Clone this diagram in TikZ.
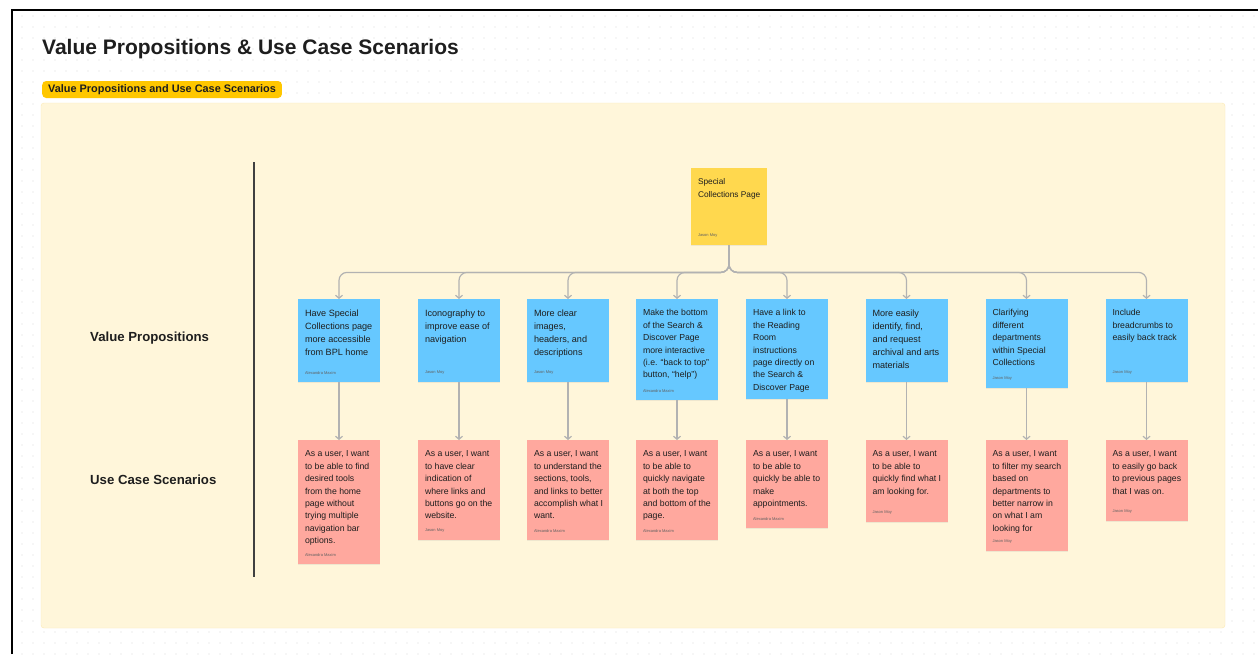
\documentclass[tikz,border=0pt]{standalone}
\usepackage{fontspec}
\setmainfont{Liberation Sans}
\usepackage{xcolor}
\usepackage{tikz}
\definecolor{stickyblue}{RGB}{102,200,255}
\definecolor{stickyred}{RGB}{255,168,158}
\definecolor{stickyyellow}{RGB}{255,216,78}
\definecolor{tagyellow}{RGB}{255,199,0}
\definecolor{panelcream}{RGB}{255,246,218}
\definecolor{panelline}{RGB}{252,234,180}
\definecolor{linkgrey}{RGB}{178,178,178}
\definecolor{inkdark}{RGB}{30,30,30}
\usetikzlibrary{arrows.meta, positioning, calc, shadows, patterns.meta}

\newcommand{\stext}[4][68pt]{\parbox[t][#2][t]{#1}{\begin{tabular}[t]{@{}l@{}}#3\end{tabular}\par\vfill{\fontsize{4}{5}\selectfont\color{inkdark!70}#4}}}

\begin{document}
\begin{tikzpicture}[x=1pt, y=-1pt,
        note/.style={rectangle, anchor=north, inner xsep=7pt, inner ysep=8pt, text=inkdark, font=\fontsize{8.7}{12.4}\selectfont, drop shadow={opacity=0.12, shadow xshift=0pt, shadow yshift=-1.2pt}},
        vp/.style={note, fill=stickyblue},
        vpbig/.style={vp, font=\fontsize{9.1}{13.1}\selectfont},
        uc/.style={note, fill=stickyred},
        link/.style={draw=linkgrey, line width=1.2pt, -{Straight Barb[length=3pt, width=7pt]}},
        rowlabel/.style={anchor=west, inner sep=0pt, text=inkdark, font=\fontsize{13.2}{16}\selectfont\bfseries}
    ]
        \useasboundingbox (0,0) rectangle (1258,654);
        \fill[white] (0,0) rectangle (1258,654);
        \fill[pattern={Dots[radius=0.7pt, distance=11pt]}, pattern color=black!15] (12,10) rectangle (1258,654);
        \draw[line width=2pt] (12,654) -- (12,10) -- (1258,10);

        \node[anchor=base west, inner sep=0pt, text=inkdark, font=\fontsize{21}{25}\selectfont\bfseries] (title) at (42,54) {Value Propositions \& Use Case Scenarios};
        \node[anchor=west, fill=tagyellow, rounded corners=4pt, inner xsep=6pt, minimum height=17pt, text=inkdark, font=\fontsize{10.9}{13}\selectfont\bfseries] (tag) at (42,89.5) {Value Propositions and Use Case Scenarios};
        \draw[panelline, fill=panelcream, rounded corners=3pt] (41,103) rectangle (1225,628);
        \draw[inkdark!85, line width=1.3pt] (254,162) -- (254,577);

        \node[rowlabel] (vplabel) at (90,338) {Value Propositions};
        \node[rowlabel] (uclabel) at (90,480) {Use Case Scenarios};

        \node[note, fill=stickyyellow, font=\fontsize{8.3}{12.4}\selectfont] (page) at (729,168) {\stext[62pt]{61pt}{Special\\Collections Page}{Jason Moy}};

        \node[vpbig] (vp1) at (339,299) {\stext{67pt}{Have Special\\Collections page\\more accessible\\from BPL home}{Alexandra Maxim}};
        \node[vpbig] (vp2) at (459,299) {\stext{67pt}{Iconography to\\improve ease of\\navigation}{Jason Moy}};
        \node[vpbig] (vp3) at (568,299) {\stext{67pt}{More clear\\images,\\headers, and\\descriptions}{Jason Moy}};
        \node[vp] (vp4) at (677,299) {\stext{85pt}{Make the bottom\\of the Search \&\\Discover Page\\more interactive\\(i.e. ``back to top''\\button, ``help'')}{Alexandra Maxim}};
        \node[vp] (vp5) at (787,299) {\stext{84pt}{Have a link to\\the Reading\\Room\\instructions\\page directly on\\the Search \&\\Discover Page}{}};
        \node[vpbig] (vp6) at (906.5,299) {\stext{67pt}{More easily\\identify, find,\\and request\\archival and arts\\materials}{}};
        \node[vp] (vp7) at (1026.5,299) {\stext{73pt}{Clarifying\\different\\departments\\within Special\\Collections}{Jason Moy}};
        \node[vp] (vp8) at (1146.5,299) {\stext{67pt}{Include\\breadcrumbs to\\easily back track}{Jason Moy}};

        \node[uc] (uc1) at (339,440) {\stext{108pt}{As a user, I want\\to be able to find\\desired tools\\from the home\\page without\\trying multiple\\navigation bar\\options.}{Alexandra Maxim}};
        \node[uc] (uc2) at (459,440) {\stext{84pt}{As a user, I want\\to have clear\\indication of\\where links and\\buttons go on the\\website.}{Jason Moy}};
        \node[uc] (uc3) at (568,440) {\stext{84pt}{As a user, I want\\to understand the\\sections, tools,\\and links to better\\accomplish what I\\want.}{Alexandra Maxim}};
        \node[uc] (uc4) at (677,440) {\stext{84pt}{As a user, I want\\to be able to\\quickly navigate\\at both the top\\and bottom of the\\page.}{Alexandra Maxim}};
        \node[uc] (uc5) at (787,440) {\stext{72pt}{As a user, I want\\to be able to\\quickly be able to\\make\\appointments.}{Alexandra Maxim}};
        \node[uc] (uc6) at (906.5,440) {\stext{66pt}{As a user, I want\\to be able to\\quickly find what I\\am looking for.}{Jason Moy}};
        \node[uc] (uc7) at (1026.5,440) {\stext{95pt}{As a user, I want\\to filter my search\\based on\\departments to\\better narrow in\\on what I am\\looking for}{Jason Moy}};
        \node[uc] (uc8) at (1146.5,440) {\stext{65pt}{As a user, I want\\to easily go back\\to previous pages\\that I was on.}{Jason Moy}};

        \foreach \i in {1,...,8} {
            \draw[link, rounded corners=8pt] (page.south) -- ++(0,27) -| (vp\i.north);
            \draw[link] (vp\i.south) -- (uc\i.north);
        }
    \end{tikzpicture}
\end{document}
